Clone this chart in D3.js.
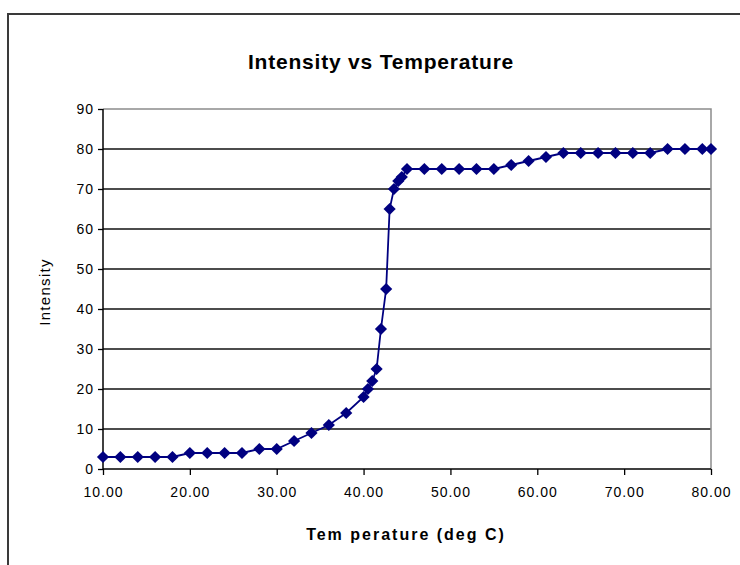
<!DOCTYPE html>
<html>
<head>
<meta charset="utf-8">
<script src="https://cdn.jsdelivr.net/npm/d3@7"></script>
<style>
  html, body { margin: 0; padding: 0; background: #fff; }
  svg { display: block; }
  text { font-family: "Liberation Sans", Arial, sans-serif; }
</style>
</head>
<body>
<svg id="chart" width="740" height="565"></svg>
<script>
const chartTitle = "Intensity vs Temperature";
const xTitle = "Tem perature (deg C)";
const yTitle = "Intensity";
const temperature = [10,12,14,16,18,20,22,24,26,28,30,32,34,36,38,40,40.5,41,41.5,42,42.6,43,43.5,44,44.4,45,47,49,51,53,55,57,59,61,63,65,67,69,71,73,75,77,79,80];
const intensity   = [3,3,3,3,3,4,4,4,4,5,5,7,9,11,14,18,20,22,25,35,45,65,70,72,73,75,75,75,75,75,75,76,77,78,79,79,79,79,79,79,80,80,80,80];
const xTicks = [10,20,30,40,50,60,70,80];
const yTicks = [0,10,20,30,40,50,60,70,80,90];

const svg = d3.select("#chart");
const L = 103, R = 711, T = 109, B = 469;
const x = d3.scaleLinear().domain([10, 80]).range([L, R]);
const y = d3.scaleLinear().domain([0, 90]).range([B, T]);

// outer chart frame
svg.append("rect").attr("x", 8).attr("y", 14).attr("width", 760).attr("height", 580)
  .attr("fill", "none").attr("stroke", "#3a3a3a").attr("stroke-width", 2);

// gridlines
svg.append("g").selectAll("line").data(yTicks.filter(d => d > 0 && d < 90)).join("line")
  .attr("x1", L).attr("x2", R).attr("y1", d => y(d)).attr("y2", d => y(d))
  .attr("stroke", "#111").attr("stroke-width", 1.4);

// plot border (top, right)
svg.append("path").attr("d", `M${L},${T}H${R}V${B}`).attr("fill", "none")
  .attr("stroke", "#8c8c8c").attr("stroke-width", 1.5);

// axes
const yAxis = d3.axisLeft(y).tickValues(yTicks).tickSize(5).tickPadding(4).tickFormat(d3.format("d"));
const xAxis = d3.axisBottom(x).tickValues(xTicks).tickSize(6).tickPadding(12).tickFormat(d3.format(".2f"));

const gy = svg.append("g").attr("transform", `translate(${L},0)`).call(yAxis);
const gx = svg.append("g").attr("transform", `translate(0,${B})`).call(xAxis);
[gy, gx].forEach(g => {
  g.select(".domain").attr("stroke", "#000").attr("stroke-width", 1.5);
  g.selectAll(".tick line").attr("stroke", "#000").attr("stroke-width", 1.3);
  g.selectAll(".tick text").attr("fill", "#000").style("font-size", "14px")
    .style("font-family", "'Liberation Sans', Arial, sans-serif").style("letter-spacing", "1px");
});
gx.select(".domain").attr("d", `M${L},0H${R}`);
gy.select(".domain").attr("d", `M0,${T}V${B}`);

// line
const line = d3.line().x((d, i) => x(temperature[i])).y((d, i) => y(intensity[i]));
svg.append("path").datum(intensity).attr("d", line)
  .attr("fill", "none").attr("stroke", "#000080").attr("stroke-width", 1.8);

// markers
const diamond = d3.symbol().type(d3.symbolDiamond2).size(95);
svg.append("g").selectAll("path").data(intensity).join("path")
  .attr("d", diamond)
  .attr("transform", (d, i) => `translate(${x(temperature[i])},${y(d)})`)
  .attr("fill", "#000080");

// titles
svg.append("text").attr("x", 381).attr("y", 69).attr("text-anchor", "middle")
  .style("font-size", "21px").style("font-weight", "bold").style("letter-spacing", "0.8px")
  .attr("fill", "#000").text(chartTitle);

svg.append("text").attr("x", 406).attr("y", 540).attr("text-anchor", "middle")
  .style("font-size", "16px").style("font-weight", "bold").style("letter-spacing", "2px")
  .attr("fill", "#000").text(xTitle);

svg.append("text").attr("transform", "translate(50,292) rotate(-90)").attr("text-anchor", "middle")
  .style("font-size", "15px").style("letter-spacing", "1.3px")
  .attr("fill", "#000").text(yTitle);
</script>
</body>
</html>
